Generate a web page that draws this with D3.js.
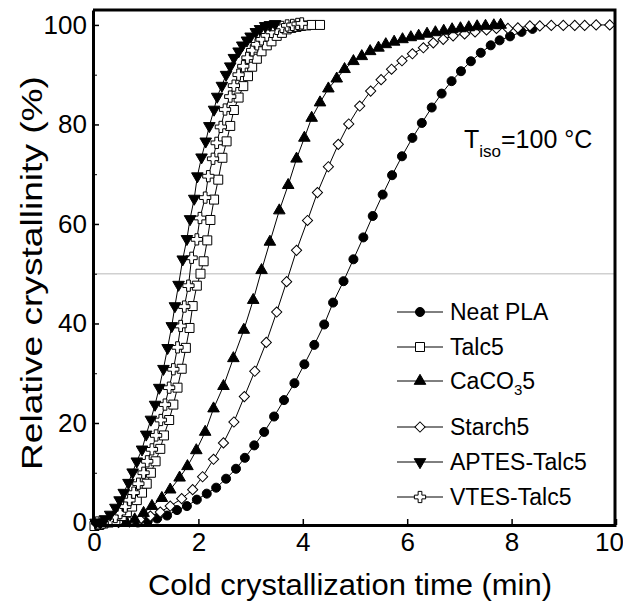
<!DOCTYPE html>
<html>
<head>
<meta charset="utf-8">
<script src="https://cdn.jsdelivr.net/npm/d3@7"></script>
<style>
  body { margin: 0; background: #fff; }
  svg { font-family: "Liberation Sans", Arial, sans-serif; }
</style>
</head>
<body>
<div id="chart"></div>
<script>
// data (time in min, relative crystallinity in %)
const neatX = [0.84,1.03,1.21,1.40,1.59,1.78,1.97,2.16,2.34,2.53,2.72,2.89,3.07,3.26,3.45,3.64,3.84,4.03,4.22,4.41,4.58,4.78,4.97,5.16,5.34,5.53,5.71,5.90,6.10,6.28,6.47,6.66,6.85,7.03,7.22,7.41,7.60,7.77,7.97,8.19,8.40];
const neatY = [0,0.3,0.8,1.4,2.5,3.3,4.6,5.8,7.0,8.8,10.8,13.0,15.5,18.2,21.3,24.6,28.0,31.8,35.7,39.8,44.2,48.5,52.9,57.3,61.6,65.9,69.8,73.6,77.3,80.3,83.4,86.2,88.7,90.7,92.7,94.4,95.9,96.9,97.7,98.6,99.2];

const talcX = [0.01,0.10,0.18,0.28,0.41,0.53,0.63,0.73,0.82,0.92,1.01,1.09,1.18,1.27,1.34,1.44,1.52,1.60,1.68,1.76,1.83,1.89,1.97,2.04,2.10,2.17,2.23,2.30,2.38,2.46,2.54,2.61,2.68,2.77,2.86,2.95,3.03,3.12,3.21,3.31,3.40,3.50,3.60,3.69,3.78,3.88,3.97,4.07,4.17,4.33];
const talcY = [-0.7,-0.5,-0.2,0,0.5,1.3,2.1,3.2,4.5,6.0,7.8,10.0,12.3,14.8,17.5,20.6,23.7,27.1,30.9,35.1,39.1,43.5,47.6,50.0,52.5,56.7,60.8,64.9,68.9,73.3,76.6,79.7,82.9,85.4,87.7,89.7,91.6,93.2,94.7,95.9,96.7,97.8,98.4,99.1,99.4,99.6,99.8,99.9,100,100];

const caco3X = [0.62,0.78,0.95,1.11,1.30,1.46,1.64,1.79,1.96,2.13,2.29,2.48,2.67,2.87,3.05,3.21,3.37,3.55,3.72,3.88,4.03,4.17,4.33,4.49,4.65,4.80,4.97,5.13,5.29,5.45,5.59,5.75,5.91,6.07,6.22,6.38,6.54,6.70,6.86,7.02,7.18,7.34,7.50,7.66,7.79];
const caco3Y = [0,0.6,1.9,3.3,4.9,6.6,9.0,11.3,14.5,18.2,22.9,27.4,33.0,38.7,44.7,50.7,56.4,62.7,67.8,73.1,77.3,81.3,84.4,87.2,89.2,91.1,92.7,93.7,94.7,95.4,96.1,96.6,97.1,97.5,97.8,98.2,98.5,98.8,99.1,99.3,99.5,99.7,99.8,99.9,100];

const starchX = [0.47,0.68,0.88,1.08,1.27,1.46,1.68,1.89,2.08,2.29,2.48,2.68,2.88,3.08,3.30,3.50,3.69,3.88,4.09,4.28,4.49,4.68,4.88,5.09,5.30,5.50,5.70,5.90,6.10,6.31,6.50,6.69,6.88,7.10,7.30,7.52,7.71,7.93,8.12,8.35,8.54,8.76,8.99,9.21,9.40,9.62,9.88];
const starchY = [0,0.1,0.6,1.3,2.1,3.3,4.8,6.6,9.2,12.7,16.0,20.2,25.3,30.4,36.2,42.3,48.4,54.7,60.7,66.3,71.5,76.0,80.1,83.7,86.7,89.0,91.1,92.8,94.2,95.4,96.4,97.1,97.8,98.2,98.6,99.0,99.3,99.3,99.4,99.8,99.8,99.9,99.9,99.9,99.9,100,100];

const aptesX = [0.03,0.12,0.21,0.31,0.41,0.49,0.57,0.66,0.74,0.82,0.92,1.00,1.09,1.17,1.25,1.33,1.41,1.49,1.55,1.62,1.70,1.78,1.84,1.92,1.98,2.06,2.14,2.21,2.30,2.36,2.45,2.53,2.61,2.68,2.77,2.84,2.93,3.00,3.10,3.18,3.28,3.37,3.47];
const aptesY = [0,0,0.7,1.6,3.0,4.5,6.0,8.0,10.1,12.3,14.7,17.7,20.7,23.7,27.1,30.9,35.1,39.5,43.5,47.8,52.9,57.0,61.0,65.1,69.6,73.4,76.6,79.7,83.0,85.6,87.8,90.0,91.7,93.4,94.7,95.9,96.9,97.7,98.6,99.2,99.8,100,100.2];

const vtesX = [0.06,0.18,0.31,0.41,0.50,0.60,0.68,0.76,0.85,0.95,1.02,1.11,1.19,1.28,1.36,1.44,1.52,1.60,1.66,1.73,1.81,1.87,1.97,2.03,2.13,2.19,2.28,2.35,2.43,2.51,2.61,2.68,2.77,2.86,2.94,3.03,3.12,3.21,3.31,3.40,3.50,3.60,3.70,3.80,3.90,3.98];
const vtesY = [0,0,0.6,1.1,1.9,3.2,4.5,6.0,7.8,10.0,12.3,14.7,17.5,20.6,23.7,27.1,30.8,35.2,39.5,43.4,47.6,53.2,56.9,61.2,65.3,69.6,73.1,76.3,79.5,83.0,85.6,87.8,90.0,91.7,93.4,94.9,96.1,97.1,97.9,98.6,99.2,99.6,99.9,100,100.2,100.3];

const seriesNames = ["Neat PLA","Talc5","CaCO3 5","Starch5","APTES-Talc5","VTES-Talc5"];
const xTicks = [0,2,4,6,8,10];
const yTicks = [0,20,40,60,80,100];
const yMinor = [10,30,50,70,90];

const W = 623, H = 601;
const x = d3.scaleLinear().domain([0,10]).range([94,616]);
const y = d3.scaleLinear().domain([-0.5,103]).range([525,10]);

const svg = d3.select("#chart").append("svg").attr("width",W).attr("height",H);

// marker styles for each series
const markers = [
  {sym: d3.symbolCircle, size: 64, fill: "#000", rot: 0},
  {sym: d3.symbolSquare, size: 81, fill: "#fff", rot: 0},
  {sym: d3.symbolTriangle, size: 58, fill: "#000", rot: 0},
  {sym: d3.symbolSquare, size: 52, fill: "#fff", rot: 45},
  {sym: d3.symbolTriangle, size: 58, fill: "#000", rot: 180},
  {sym: d3.symbolCross, size: 70, fill: "#fff", rot: 0}
];

const series = [
  {x: neatX, y: neatY}, {x: talcX, y: talcY}, {x: caco3X, y: caco3Y},
  {x: starchX, y: starchY}, {x: aptesX, y: aptesY}, {x: vtesX, y: vtesY}
].map((s, i) => ({name: seriesNames[i], m: markers[i], pts: s.x.map((v, j) => [v, s.y[j]])}));

// 50% guide line
svg.append("line")
  .attr("x1", x(0)).attr("x2", x(10)).attr("y1", y(50)).attr("y2", y(50))
  .attr("stroke", "#d0d0d0").attr("stroke-width", 1.5);

const line = d3.line().x(d => x(d[0])).y(d => y(d[1]));
const sym = m => d3.symbol().type(m.sym).size(m.size);

// draw order: slow ones first, fast ones on top
const order = [0,3,2,1,5,4];
order.forEach(i => {
  const s = series[i];
  const g = svg.append("g");
  g.append("path").attr("d", line(s.pts)).attr("fill","none").attr("stroke","#000").attr("stroke-width",1);
  g.selectAll("path.m").data(s.pts).join("path").attr("class","m")
    .attr("d", sym(s.m))
    .attr("transform", d => `translate(${x(d[0])},${y(d[1])}) rotate(${s.m.rot})`)
    .attr("fill", s.m.fill).attr("stroke", "#000").attr("stroke-width", 1);
});

// axes
const xAxis = d3.axisBottom(x).tickValues(xTicks).tickSize(-6).tickSizeOuter(0).tickPadding(8);
const yAxis = d3.axisLeft(y).tickValues(yTicks).tickSize(-6).tickSizeOuter(0).tickPadding(6);

const gx = svg.append("g").attr("transform","translate(0,525)").call(xAxis);
const gy = svg.append("g").attr("transform","translate(93,0)").call(yAxis);
svg.append("g").attr("transform","translate(93,0)")
  .call(d3.axisLeft(y).tickValues(yMinor).tickSize(-4).tickSizeOuter(0).tickFormat(""))
  .select(".domain").remove();

[gx, gy].forEach(g => {
  g.select(".domain").attr("stroke-width", 3);
  g.selectAll(".tick line").attr("stroke-width", 1.5);
  g.selectAll(".tick text").attr("font-size", 26).attr("fill","#000")
    .attr("font-family", "Liberation Sans, Arial, sans-serif");
});
// the last x label sits at the page edge; nudge it so it stays inside
gx.selectAll(".tick text").filter(d => d === 10).attr("dx", -7);

// top and right frame
svg.append("path")
  .attr("d", `M93,10 H615 V525`)
  .attr("fill","none").attr("stroke","#000").attr("stroke-width",3);

// axis titles
svg.append("text").attr("x", 350).attr("y", 595).attr("text-anchor","middle")
  .attr("font-size", 29).attr("textLength", 404).attr("lengthAdjust", "spacingAndGlyphs")
  .text("Cold crystallization time (min)");
svg.append("text").attr("transform","translate(42,273) rotate(-90)").attr("text-anchor","middle")
  .attr("font-size", 29).attr("textLength", 394).attr("lengthAdjust", "spacingAndGlyphs")
  .text("Relative crystallinity (%)");

// annotation
const ann = svg.append("text").attr("x", 464).attr("y", 148).attr("font-size", 25);
ann.append("tspan").text("T");
ann.append("tspan").attr("font-size", 17).attr("dy", 9).text("iso");
ann.append("tspan").attr("dy", -9).text("=100 °C");

// legend
const legendY = [312, 347, 381, 427, 462, 497];
const lg = svg.append("g");
series.forEach((s, i) => {
  const ly = legendY[i];
  lg.append("line").attr("x1", 397).attr("x2", 443).attr("y1", ly).attr("y2", ly)
    .attr("stroke","#000").attr("stroke-width",1);
  lg.append("path").attr("d", sym(s.m))
    .attr("transform", `translate(420,${ly}) rotate(${s.m.rot})`)
    .attr("fill", s.m.fill).attr("stroke","#000").attr("stroke-width",1);
  const t = lg.append("text").attr("x", 450).attr("y", ly + 8).attr("font-size", 23);
  if (i === 2) {
    t.append("tspan").text("CaCO");
    t.append("tspan").attr("font-size", 15).attr("dy", 6).text("3");
    t.append("tspan").attr("dy", -6).text("5");
  } else {
    t.text(s.name);
  }
});
</script>
</body>
</html>
